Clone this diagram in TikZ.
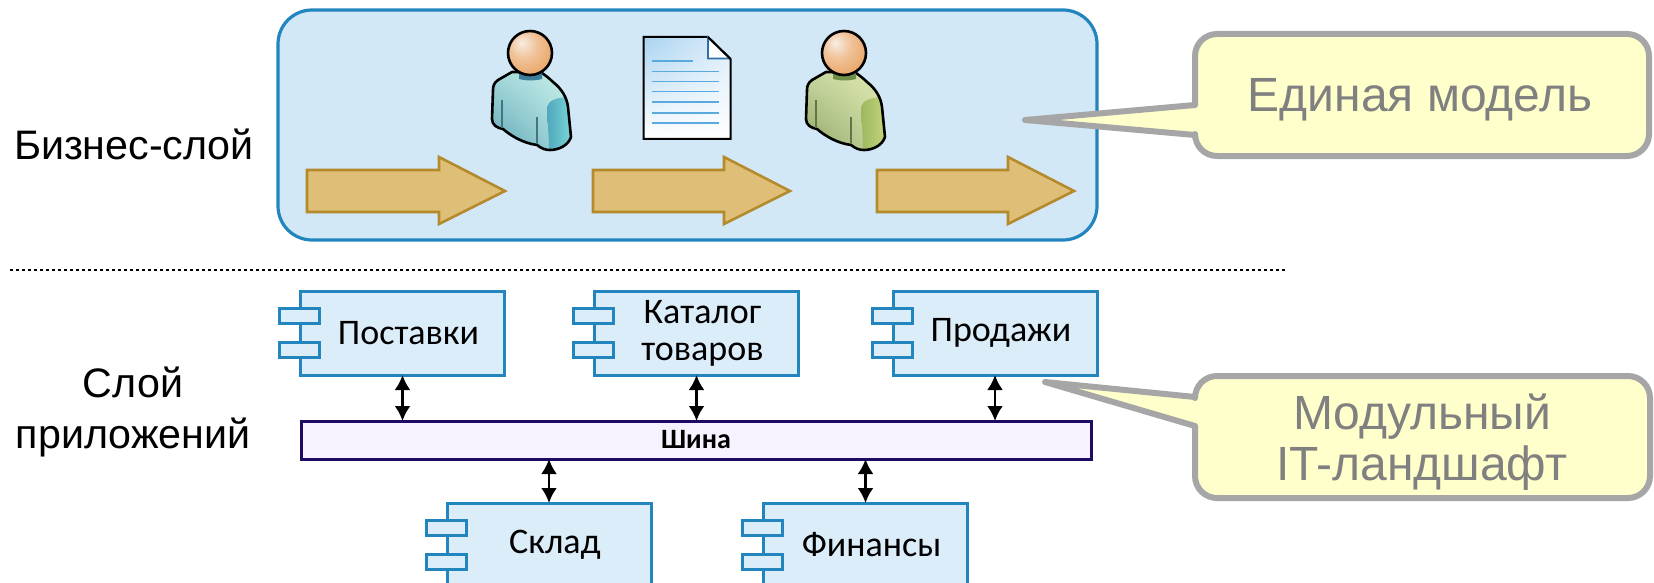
\documentclass[tikz,border=0pt]{standalone}
\usepackage{xcolor}
\usepackage{fontspec}
\setmainfont{Liberation Sans}
\newfontfamily\calibriFont{Carlito}
\usetikzlibrary{arrows.meta,calc,shadings}
\definecolor{layerFill}{HTML}{D2E8F7}
\definecolor{layerLine}{HTML}{2285BE}
\definecolor{compFill}{HTML}{DCEDFA}
\definecolor{busFill}{HTML}{F8F2FF}
\definecolor{busLine}{HTML}{1F0A63}
\definecolor{flowFill}{HTML}{DFBF77}
\definecolor{flowLine}{HTML}{B48A2C}
\definecolor{noteFill}{HTML}{FFFFCC}
\definecolor{noteLine}{HTML}{A6A6A6}
\definecolor{noteText}{HTML}{808080}
\definecolor{docLine}{HTML}{5AAAE0}
\definecolor{docCorner}{HTML}{A9D3F0}
\definecolor{docEdge}{HTML}{2F6FA8}
\definecolor{headLight}{HTML}{F8EDE3}
\definecolor{headMid}{HTML}{F0C298}
\definecolor{headDark}{HTML}{E6984F}
\definecolor{headRim}{HTML}{D5843F}
\definecolor{tealDark}{HTML}{5FA5B5}
\definecolor{tealMid}{HTML}{A5D9DC}
\definecolor{tealLight}{HTML}{C8F0E8}
\definecolor{tealSleeveA}{HTML}{4FA8BC}
\definecolor{tealSleeveB}{HTML}{7EDADB}
\definecolor{tealNeck}{HTML}{3A7F9A}
\definecolor{greenDark}{HTML}{8FA565}
\definecolor{greenMid}{HTML}{C6D6A0}
\definecolor{greenLight}{HTML}{E0E8B0}
\definecolor{greenSleeveA}{HTML}{9DB860}
\definecolor{greenSleeveB}{HTML}{C8D880}
\definecolor{greenNeck}{HTML}{6F8F48}
\pgfdeclareradialshading{headBall}{\pgfpoint{-10bp}{12bp}}{%
  color(0bp)=(headLight);
  color(16bp)=(headMid);
  color(42bp)=(headDark);
  color(70bp)=(headRim)}
\tikzset{
  compBox/.style={draw=layerLine,fill=compFill,line width=1.5pt,
    minimum width=102pt,minimum height=42pt,inner sep=0pt,outer sep=0pt},
  compTab/.style={draw=layerLine,fill=compFill,line width=1.5pt,
    minimum width=20pt,minimum height=7.5pt,inner sep=0pt,outer sep=0pt},
  compText/.style={align=center,font=\calibriFont\fontsize{18}{18.5}\selectfont},
  busBox/.style={draw=busLine,fill=busFill,line width=1.5pt,
    minimum width=395pt,minimum height=19pt,inner sep=0pt,outer sep=0pt,
    font=\calibriFont\bfseries\fontsize{14}{16}\selectfont},
  linkArrow/.style={{Latex[length=7.5pt,width=8pt]}-{Latex[length=7.5pt,width=8pt]},line width=1.3pt},
  flowArrow/.style={draw=flowLine,fill=flowFill,line width=1.3pt},
  noteShape/.style={draw=noteLine,fill=noteFill,line width=3pt,line join=round},
  noteLabel/.style={align=center,text=noteText,font=\fontsize{24}{25.5}\selectfont},
  layerLabel/.style={align=center,font=\fontsize{20.6}{25.5}\selectfont},
}
\newcommand{\aComponent}[4]{%
  % #1 the name of the node
  % #2 x of the centre
  % #3 y of the centre
  % #4 the text
  \node[compBox] (#1) at (#2,#3) {};
  \node[compTab] (#1TabA) at ([xshift=-51.5pt,yshift=8.7pt]#1.center) {};
  \node[compTab] (#1TabB) at ([xshift=-51.5pt,yshift=-8.6pt]#1.center) {};
  \node[compText] (#1Text) at ([xshift=3pt]#1.center) {#4};
}
\newcommand{\personOutline}{%
  (-18,19) -- (-32,27) .. controls (-36,30) and (-37,33) .. (-37,37)
  -- (-38,66) .. controls (-38,72) and (-33,75) .. (-27,76)
  .. controls (-20,82) and (-8,90) .. (7,92)
  .. controls (12,96) and (16,97) .. (20,97)
  .. controls (28,97) and (38,93) .. (41,84)
  -- (38,54) .. controls (37,45) and (32,36) .. (23,29)
  .. controls (19,25) and (16,23) .. (12,20) -- cycle}
\newcommand{\aPerson}[8]{%
  % #1 x of the head, #2 y of the head
  % #3 #4 #5 shirt, dark to light
  % #6 #7 sleeve, dark to light
  % #8 neck
  \begin{scope}[shift={(#1,#2)}]
    \path[shade,lower left=#3,upper left=#4,upper right=#5,lower right=#4] \personOutline;
    \begin{scope}
      \clip \personOutline;
      \path[left color=#6,right color=#7]
        (17,54) .. controls (19,47) and (27,44) .. (42,44)
        -- (44,98) -- (19,98) .. controls (19,80) and (17,65) .. (17,54) -- cycle;
    \end{scope}
    \draw[line width=1.3pt,line join=round] \personOutline;
    \draw[#3!70!black,line width=.6pt] (-28,47) -- (-28,75) (7,64) -- (7,91);
    \fill[#8] (-11,19) -- (-11,26) .. controls (-3,28) and (5,28) .. (12,26) -- (12,19) -- cycle;
    \draw[shade,line width=1.3pt,shading=headBall] (0,0) circle (22);
  \end{scope}
}
\begin{document}
\begin{tikzpicture}[x=.5pt,y=-.5pt]
  \useasboundingbox (0,0) rectangle (1654,583);
  \clip (0,0) rectangle (1654,583);
  % business layer
  \draw[draw=layerLine,fill=layerFill,line width=1.6pt,rounded corners=17pt] (278,10) rectangle (1097,240);
  \node[layerLabel] (bizLabel) at (134,144) {Бизнес-слой};
  \foreach \ax/\ah/\at in {307/439/505,593/724/790,877/1008/1074}{
    \draw[flowArrow] (\ax,170) -- (\ah,170) -- (\ah,157) -- (\at,191) -- (\ah,224) -- (\ah,212) -- (\ax,212) -- cycle;
  }
  \aPerson{530}{53}{tealDark}{tealMid}{tealLight}{tealSleeveA}{tealSleeveB}{tealNeck}
  \aPerson{844}{53}{greenDark}{greenMid}{greenLight}{greenSleeveA}{greenSleeveB}{greenNeck}
  % document
  \draw[shade,line width=1pt,line join=miter,upper left=docCorner,lower right=white,upper right=compFill,lower left=white]
    (643.5,37) -- (708,37) -- (730.5,59) -- (730.5,139) -- (643.5,139) -- cycle;
  \draw[draw=docEdge,fill=white,line width=.8pt] (708,37.5) -- (708,58.5) -- (730,58.5) -- cycle;
  \draw[black,line width=1pt] (708,37) -- (730.5,59);
  \draw[docLine,line width=.8pt] (652,61) -- (693,61);
  \foreach \ly in {71.7,81.7,91.7,102.3,113,123}{
    \draw[docLine,line width=.8pt] (652,\ly) -- (719,\ly);
  }
  % separator
  \draw[line width=1.4pt,dash pattern=on 1.5pt off 1.5pt] (10,270) -- (1286,270);
  % application layer
  \node[layerLabel] (appLabel) at (133,412) {Слой\\приложений};
  \aComponent{compSupply}{402.5}{333}{Поставки}
  \aComponent{compCatalog}{696.5}{333}{Каталог\\товаров}
  \aComponent{compSales}{995}{333}{Продажи}
  \aComponent{compStore}{549}{545}{Склад}
  \aComponent{compFinance}{865.5}{545}{Финансы}
  \node[busBox] (bus) at (696,440) {Шина};
  \draw[linkArrow] (compSupply.south) -- (compSupply.south |- bus.north);
  \draw[linkArrow] (compCatalog.south) -- (compCatalog.south |- bus.north);
  \draw[linkArrow] (compSales.south) -- (compSales.south |- bus.north);
  \draw[linkArrow] (compStore.north) -- (compStore.north |- bus.south);
  \draw[linkArrow] (compFinance.north) -- (compFinance.north |- bus.south);
  % notes
  \draw[noteShape] (1025,120) -- (1195,105) [rounded corners=11pt] -- (1195,34) -- (1649,34) -- (1649,156) -- (1195,156) [sharp corners] -- (1195,135) -- cycle;
  \node[noteLabel] (noteModel) at (1420,100) {Единая модель};
  \draw[noteShape] (1045,382) -- (1195,397) [rounded corners=11pt] -- (1195,376) -- (1650,376) -- (1650,498) -- (1195,498) [sharp corners] -- (1195,426) -- cycle;
  \node[noteLabel] (noteLandscape) at (1422,442) {Модульный\\IT-ландшафт};
\end{tikzpicture}
\end{document}
